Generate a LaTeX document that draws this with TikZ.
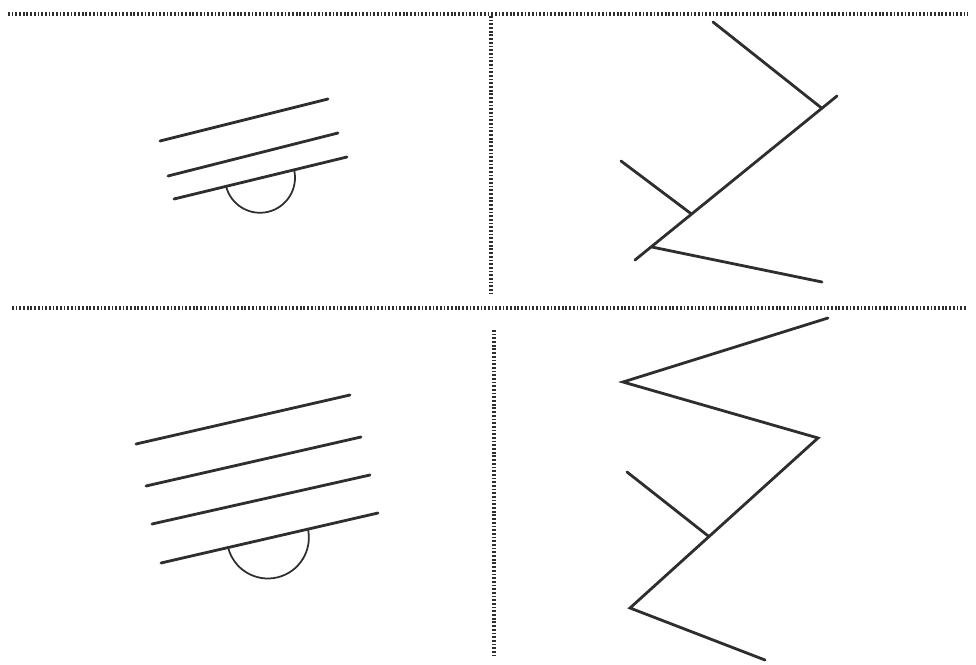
\documentclass[tikz,border=0pt]{standalone}
\usepackage{tikz}
\usetikzlibrary{calc}
\usepackage{xcolor}
\definecolor{Ink}{HTML}{2E2E2E}

\begin{document}
\begin{tikzpicture}[
    x=0.02cm, y=0.02cm,
    bar/.style={draw=Ink, line width=1.6pt, line cap=round},
    cup/.style={draw=Ink, line width=1.0pt},
    divider/.style={draw=Ink, line width=1.8pt, dash pattern=on 1pt off 1.1pt}
]
\useasboundingbox (0,0) rectangle (976,-665);

% =============================================
% DIVIDERS
% =============================================
\coordinate (topL) at (8,-14);    \coordinate (topR) at (968,-14);
\coordinate (midL) at (12,-308);  \coordinate (midR) at (966,-308);
\draw[divider] (topL) -- (topR);
\draw[divider] (midL) -- (midR);
\draw[divider] (491,-16) -- (491,-295);
\draw[divider] (494,-330) -- (494,-656);

% =============================================
% TOP LEFT: three bars with a cup
% =============================================
\draw[bar] (160,-141) -- (328,-99);
\draw[bar] (168,-176) -- (338,-133);
\draw[bar] (174,-199) -- (347,-157);
\draw[cup] (226,-186) arc[start angle=193.6, end angle=373.6, radius=0.70cm];

% =============================================
% TOP RIGHT: bent line
% =============================================
\coordinate (tA) at (635,-260);
\coordinate (tB) at (837,-96);
\coordinate (tJ1) at ($(tA)!0.925!(tB)$);
\coordinate (tJ2) at ($(tA)!0.28!(tB)$);
\coordinate (tJ3) at ($(tA)!0.08!(tB)$);
\draw[bar] (tA) -- (tB);
\draw[bar] (713,-22) -- (tJ1);
\draw[bar] (621,-161) -- (tJ2);
\draw[bar] (tJ3) -- (822,-282);

% =============================================
% BOTTOM LEFT: four bars with a cup
% =============================================
\draw[bar] (136,-444) -- (350,-395);
\draw[bar] (146,-486) -- (361,-437);
\draw[bar] (152,-524) -- (370,-475);
\draw[bar] (161,-563) -- (378,-513);
\draw[cup] (228,-547) arc[start angle=193.4, end angle=373.4, radius=0.82cm];

% =============================================
% BOTTOM RIGHT: zigzag
% =============================================
\coordinate (z1) at (828,-318);
\coordinate (z2) at (623,-382);
\coordinate (z3) at (818,-438);
\coordinate (z4) at (630,-608);
\coordinate (z5) at (765,-660);
\coordinate (zJ) at ($(z3)!0.58!(z4)$);
\draw[bar, line join=miter] (z1) -- (z2) -- (z3) -- (z4) -- (z5);
\draw[bar] (627,-472) -- (zJ);

\end{tikzpicture}
\end{document}
